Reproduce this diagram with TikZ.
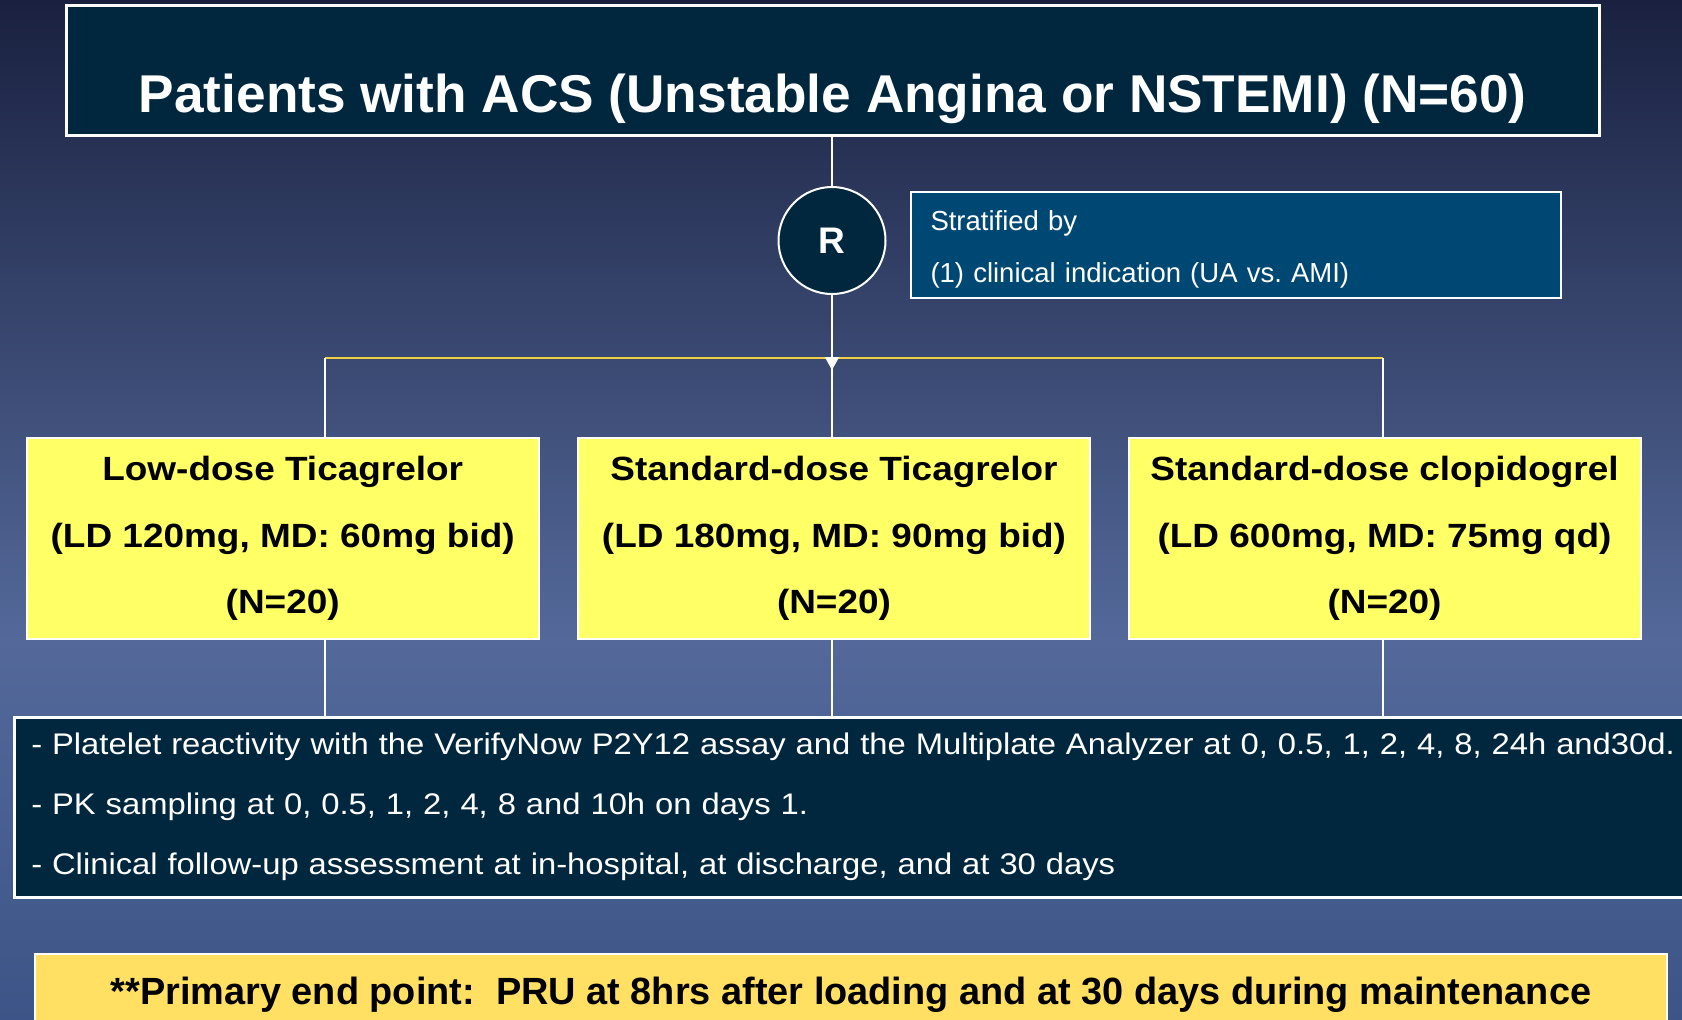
\documentclass[tikz,border=0pt]{standalone}
\usepackage{fontspec}
\setmainfont{Liberation Sans}
\newfontfamily\wfont[FakeStretch=1.1]{Liberation Sans}
\newfontfamily\ifont[FakeStretch=1.1]{Liberation Sans}
\usetikzlibrary{arrows.meta}
\definecolor{bgtop}{HTML}{1A2140}
\definecolor{bgmid}{HTML}{54699A}
\definecolor{bgbot}{HTML}{3C5487}
\definecolor{navybox}{HTML}{01273F}
\definecolor{stratbox}{HTML}{004874}
\definecolor{armyellow}{HTML}{FFFF66}
\definecolor{endyellow}{HTML}{FFE062}
\definecolor{splitline}{HTML}{F0D040}
\begin{document}
\frenchspacing
\begin{tikzpicture}[x=1pt,y=-1pt,
  boxline/.style={draw=white,line width=2.5pt},
  titlebox/.style={boxline,fill=navybox,text=white,inner sep=0pt,
    minimum width=1533pt,text height=107pt,text depth=23pt,
    font=\bfseries\fontsize{53.2}{60}\selectfont},
  rcircle/.style={circle,draw=white,line width=2pt,fill=navybox,text=white,
    minimum size=107pt,inner sep=0pt,font=\bfseries\fontsize{37}{40}\selectfont},
  stratnode/.style={boxline,line width=2pt,fill=stratbox,text=white,align=left,
    inner xsep=20pt,inner ysep=0pt,text width=610pt,minimum height=106pt,
    text height=38pt,text depth=68pt,
    font=\fontsize{27.5}{52}\selectfont},
  armbox/.style={boxline,line width=2pt,fill=armyellow,text=black,align=center,
    minimum width=512pt,minimum height=201pt,inner sep=0pt,
    font=\wfont\bfseries\fontsize{33.6}{66.5}\selectfont},
  infobox/.style={boxline,fill=navybox,text=white,align=left,
    inner xsep=17pt,inner ysep=0pt,text width=1700pt,minimum height=180pt,
    font=\ifont\fontsize{29.8}{60}\selectfont},
  endbox/.style={boxline,line width=2pt,fill=endyellow,text=black,align=center,
    minimum width=1632pt,minimum height=80pt,inner sep=0pt,
    text height=50pt,text depth=30pt,
    font=\bfseries\fontsize{37.9}{40}\selectfont},
  wline/.style={draw=white,line width=2pt},
  yline/.style={draw=splitline,line width=2pt}
]
% background
\useasboundingbox (0,0) rectangle (1682,1020);
\shade[top color=bgtop,bottom color=bgmid] (0,0) rectangle (1682,640);
\shade[top color=bgmid,bottom color=bgbot] (0,639) rectangle (1682,1020);

% nodes
\node[titlebox,anchor=north] (title) at (832.75,4) {Patients with ACS (Unstable Angina or NSTEMI) (N=60)};
\node[rcircle] (R) at (832,240.5) {R};
\node[stratnode,anchor=north west] (strat) at (909.5,191) {Stratified by\\(1) clinical indication (UA vs. AMI)};

\node[armbox,anchor=north west] (arm1) at (25.7,437) {Low-dose Ticagrelor\\(LD 120mg, MD: 60mg bid)\\(N=20)};
\node[armbox,anchor=north west] (arm2) at (577,437) {Standard-dose Ticagrelor\\(LD 180mg, MD: 90mg bid)\\(N=20)};
\node[armbox,anchor=north west] (arm3) at (1127.5,437) {Standard-dose clopidogrel\\(LD 600mg, MD: 75mg qd)\\(N=20)};

\node[infobox,anchor=north west] (info) at (13,716) {- Platelet reactivity with the VerifyNow P2Y12 assay and the Multiplate Analyzer at 0, 0.5, 1, 2, 4, 8, 24h and30d.\\- PK sampling at 0, 0.5, 1, 2, 4, 8 and 10h on days 1.\\- Clinical follow-up assessment at in-hospital, at discharge, and at 30 days};

\node[endbox,anchor=north west] (endp) at (34,953) {**Primary end point:\ \ PRU at 8hrs after loading and at 30 days during maintenance};

% connector coordinates
\coordinate (leftc) at (325,358);
\coordinate (split) at (832,358);
\coordinate (rightc) at (1383,358);
\coordinate (tipR) at (832,370);

% connectors
\draw[wline] (title.south -| R) -- (R.north);
\draw[yline] (leftc) -- (rightc);
\draw[wline] (leftc) -- (leftc |- arm1.north);
\draw[wline] (split) -- (split |- arm2.north);
\draw[wline] (rightc) -- (rightc |- arm3.north);
\draw[wline,-{Triangle[width=14pt,length=13pt,fill=white]}] (R.south) -- (tipR);

\draw[wline] (arm1.south -| leftc) -- (info.north -| leftc);
\draw[wline] (arm2.south -| split) -- (info.north -| split);
\draw[wline] (arm3.south -| rightc) -- (info.north -| rightc);
\end{tikzpicture}
\end{document}
